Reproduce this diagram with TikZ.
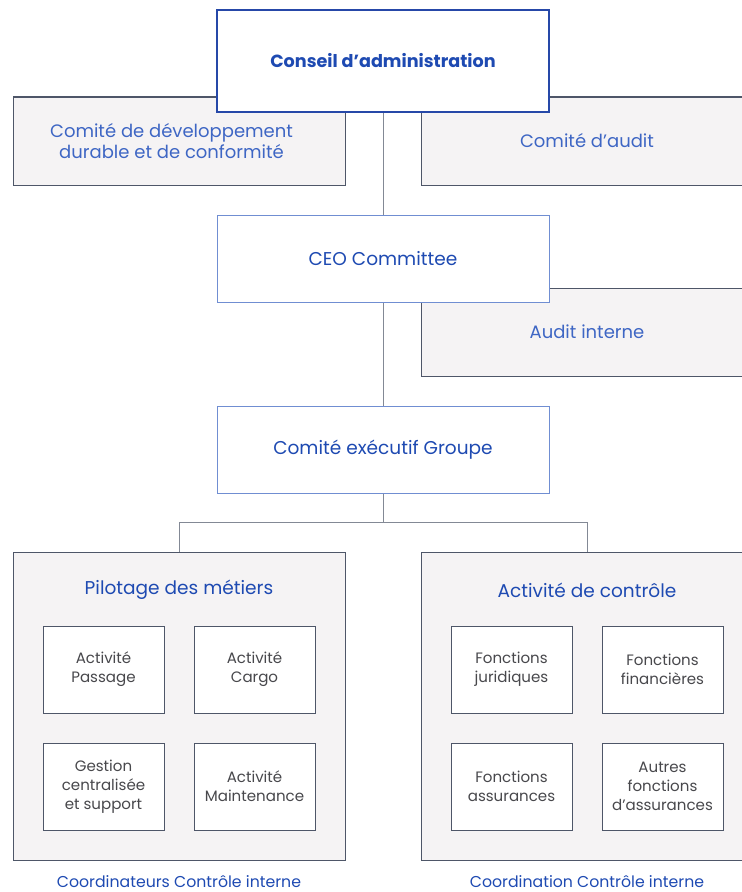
\documentclass[tikz,border=0pt]{standalone}
\usepackage{fontspec}
\setmainfont{Poppins}

\definecolor{navyline}{RGB}{38,72,168}
\definecolor{paleblueline}{RGB}{112,142,210}
\definecolor{slateline}{RGB}{78,86,104}
\definecolor{panefill}{RGB}{245,243,244}
\definecolor{titleblue}{RGB}{30,74,178}
\definecolor{softblue}{RGB}{62,102,196}
\definecolor{unittext}{RGB}{72,72,76}

\tikzset{every picture/.style={line width=0.75pt}}
\tikzset{
  topbox/.style={draw=navyline, fill=white, line width=1pt, minimum width=249pt, minimum height=76.5pt, inner sep=0pt, text=titleblue, font=\fontsize{13.2}{16}\selectfont\bfseries},
  mainbox/.style={draw=paleblueline, fill=white, minimum width=249pt, minimum height=65.25pt, inner sep=0pt, text=titleblue, font=\fontsize{13.9}{16}\selectfont},
  sidebox/.style={draw=slateline, fill=panefill, minimum width=249pt, minimum height=66pt, inner sep=0pt, align=center, text=softblue, font=\fontsize{13.5}{15.75}\selectfont},
  groupbox/.style={draw=slateline, fill=panefill, minimum width=249pt, minimum height=231pt, inner sep=0pt},
  unitbox/.style={draw=slateline, fill=white, minimum width=90.75pt, minimum height=65.25pt, inner sep=0pt, align=center, text=unittext, font=\fontsize{11.3}{14.25}\selectfont},
  grouptitle/.style={inner sep=0pt, text=titleblue, font=\fontsize{13.9}{16}\selectfont},
  footlabel/.style={inner sep=0pt, text=titleblue, font=\fontsize{11.8}{14}\selectfont},
  link/.style={draw=slateline!70, line width=0.75pt}
}

\begin{document}
\begin{tikzpicture}[x=0.75pt,y=0.75pt,yscale=-1,xscale=1]
\clip (0,0) rectangle (742,892);

%Shape: Rectangle [side committees]
\node (devdur) at (179,141) [sidebox, label={[align=center, text=softblue, font=\fontsize{13.5}{15.75}\selectfont, xshift=-5.6pt]center:Comité de développement\\durable et de conformité}] {};
\node (audit) at (587,141) [sidebox] {Comité d’audit};
\node (auditint) at (587,332) [sidebox] {Audit interne};

%Straight Lines [spine]
\draw [link]  (383,61) -- (383,449.5) ;

%Shape: Rectangle [main chain]
\node (cons) at (383,61) [topbox] {Conseil d’administration};
\node (ceo) at (383,258.5) [mainbox] {CEO Committee};
\node (exec) at (383,449.5) [mainbox] {Comité exécutif Groupe};

%Shape: Rectangle [groups]
\node (pilot) at (179,706) [groupbox] {};
\node (ctrl) at (587,706) [groupbox] {};

%Straight Lines [split]
\coordinate (fork) at (383,522);
\draw [link]  (exec.south) -- (fork) ;
\draw [link]  (fork) -| (pilot.north) ;
\draw [link]  (fork) -| (ctrl.north) ;

% Text Node
\node (pilottitle) at (179,590) [grouptitle] {Pilotage des métiers};
% Text Node
\node (ctrltitle) at (587,590) [grouptitle] {Activité de contrôle};

%Shape: Rectangle [units]
\node (passage) at (103.5,669.5) [unitbox] {Activité\\Passage};
\node (cargo) at (254.5,669.5) [unitbox] {Activité\\Cargo};
\node (gestion) at (103.5,786.5) [unitbox] {Gestion\\centralisée\\et support};
\node (maint) at (254.5,786.5) [unitbox] {Activité\\Maintenance};
\node (jurid) at (511.5,669.5) [unitbox] {Fonctions\\juridiques};
\node (financ) at (662.5,669.5) [unitbox] {Fonctions\\financières};
\node (assur) at (511.5,786.5) [unitbox] {Fonctions\\assurances};
\node (autres) at (662.5,786.5) [unitbox] {Autres\\fonctions\\d’assurances};

% Text Node
\node (pilotfoot) at (179,882) [footlabel] {Coordinateurs Contrôle interne};
% Text Node
\node (ctrlfoot) at (587,882) [footlabel] {Coordination Contrôle interne};

\end{tikzpicture}
\end{document}
